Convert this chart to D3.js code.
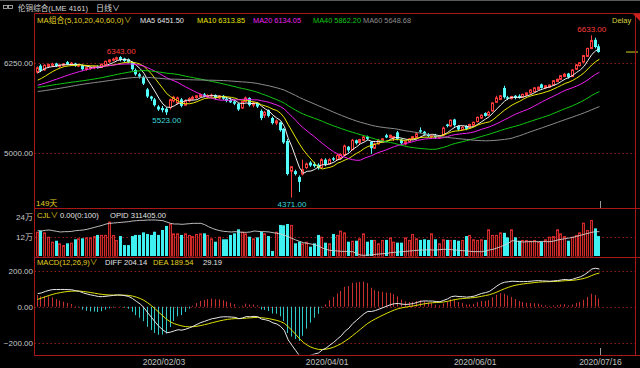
<!DOCTYPE html>
<html><head><meta charset="utf-8">
<script src="https://cdn.jsdelivr.net/npm/d3@7/dist/d3.min.js"></script>
<style>
html,body{margin:0;padding:0;background:#000;}
svg{display:block;}
text{font-family:"Liberation Sans",Arial,"Noto Sans CJK SC",sans-serif;}
</style></head><body>
<svg id="c" width="640" height="368"></svg>
<script>
// ---------------- DATA ----------------
const priorCloses = [5800,5780,5760,5740,5720,5700,5690,5680,5660,5650,5640,5660,5700,5720,5760,5780,5800,5820,5840,5860,
 5850,5860,5870,5880,5890,5900,5920,5930,5940,5950,5910,5880,5870,5860,5850,5840,5830,5820,5830,5850,
 5860,5870,5880,5860,5850,5840,5860,5870,5880,5900,
 5890,5900,5890,5910,5940,5990,6050,6150,6180];
const opens = [6120,6210,6150,6200,6215,6240,6200,6215,6260,6235,6240,6205,6215,6160,6175,6180,6200,6185,6225,6265,
 6290,6300,6330,6310,6300,6260,6150,6090,6050,5880,5780,5740,5640,5620,5610,5625,5720,5690,5740,5660,
 5720,5745,5765,5780,5810,5775,5790,5800,5760,5790,5750,5730,5710,5680,5620,5710,5760,5660,5690,5580,
 5520,5590,5480,5410,5420,5330,5160,4740,4740,4660,4700,4790,4860,4840,4830,4790,4900,4840,4920,4900,
 4920,4960,5080,5040,5170,5140,5170,5220,5150,5060,5120,5160,5240,5210,5200,5280,5180,5120,5150,5190,
 5210,5310,5290,5250,5220,5240,5210,5240,5390,5370,5460,5370,5320,5370,5340,5380,5430,5480,5550,5520,
 5580,5700,5740,5900,5770,5750,5790,5790,5770,5800,5830,5850,5880,5950,5900,5910,5940,5990,6020,6060,
 6100,6060,6160,6210,6260,6340,6450,6570,6480];
const highs = [6200,6230,6230,6240,6250,6250,6230,6245,6275,6260,6250,6230,6225,6190,6200,6210,6215,6240,6280,6300,
 6320,6335,6343,6320,6310,6270,6170,6110,6070,5900,5790,5760,5660,5650,5630,5750,5790,5780,5760,5740,
 5770,5790,5800,5820,5830,5810,5820,5810,5800,5800,5770,5760,5730,5690,5720,5780,5770,5700,5700,5600,
 5580,5600,5500,5460,5430,5340,5190,4810,4760,4680,4900,4860,4880,4870,4850,4920,4920,4920,4940,4980,
 4990,5110,5090,5190,5180,5190,5230,5235,5160,5140,5190,5200,5260,5250,5230,5300,5190,5160,5200,5230,
 5270,5350,5300,5270,5250,5260,5240,5360,5400,5460,5470,5380,5370,5380,5400,5430,5500,5530,5560,5580,
 5700,5790,5800,5930,5790,5790,5800,5810,5820,5840,5880,5910,5920,5960,5940,5950,6010,6030,6080,6110,
 6110,6160,6230,6260,6360,6460,6633,6600,6510];
const lows = [6100,6120,6140,6180,6190,6190,6180,6200,6220,6210,6195,6190,6140,6140,6150,6160,6170,6180,6215,6250,
 6270,6280,6270,6260,6240,6140,6070,6030,5940,5760,5720,5640,5580,5560,5523,5600,5700,5670,5630,5650,
 5700,5730,5750,5770,5770,5760,5770,5740,5740,5730,5700,5690,5660,5580,5610,5700,5640,5630,5620,5450,
 5480,5490,5390,5380,5290,5120,4680,4371,4680,4450,4680,4770,4800,4790,4760,4780,4810,4830,4880,4890,
 4900,4950,5000,5030,5110,5120,5160,5170,4980,5050,5110,5150,5200,5200,5160,5170,5110,5100,5140,5180,
 5200,5270,5240,5210,5200,5190,5190,5230,5350,5360,5360,5300,5310,5310,5330,5370,5420,5470,5500,5510,
 5570,5690,5730,5750,5730,5740,5740,5750,5760,5790,5820,5840,5870,5890,5890,5900,5930,5980,6010,6050,
 6030,6050,6150,6200,6250,6330,6440,6450,6390];
const closes = [6180,6140,6215,6225,6230,6205,6220,6235,6230,6245,6205,6220,6160,6180,6185,6195,6180,6230,6270,6290,
 6300,6320,6290,6275,6255,6160,6090,6060,5960,5780,5750,5660,5600,5590,5560,5735,5770,5760,5650,5720,
 5750,5770,5790,5805,5780,5795,5800,5760,5785,5750,5720,5700,5680,5600,5710,5760,5660,5690,5640,5480,
 5560,5510,5410,5440,5310,5140,4700,4800,4700,4590,4760,4840,4820,4810,4780,4900,4830,4900,4900,4960,
 4970,5090,5030,5170,5130,5180,5215,5190,5060,5120,5170,5190,5210,5240,5220,5190,5130,5150,5190,5220,
 5260,5290,5250,5230,5240,5210,5230,5340,5370,5450,5380,5320,5350,5330,5390,5420,5490,5520,5510,5560,
 5690,5760,5790,5770,5750,5780,5760,5770,5810,5830,5870,5900,5910,5900,5930,5940,6000,6020,6070,6090,
 6050,6150,6220,6250,6350,6450,6560,6470,6400];
const volumes = [15.1,15.8,14.7,12.0,8.9,9.5,7.9,6.8,7.9,8.3,10.4,11.0,11.0,11.6,11.6,12.4,13.1,13.1,13.1,21.4,
 13.1,10.0,12.4,6.8,6.8,12.4,13.1,13.1,14.7,13.7,13.1,15.1,13.1,16.2,18.7,20.3,14.1,14.1,13.1,14.1,
 13.1,12.4,13.7,14.1,14.1,13.1,11.0,8.9,12.0,10.4,10.4,13.1,14.1,16.6,15.1,14.1,12.0,11.0,11.6,15.1,
 14.1,12.4,3.1,15.1,19.3,19.1,19.9,19.3,7.9,8.9,7.9,8.9,5.8,7.9,13.1,12.0,8.3,7.9,13.7,13.1,
 15.8,14.7,8.9,9.5,9.5,11.0,14.1,8.9,10.0,10.0,7.9,10.0,10.0,11.6,8.9,8.3,8.3,11.6,10.0,13.7,
 11.0,10.0,10.4,10.0,14.1,10.4,7.9,10.4,10.0,10.0,10.0,9.5,10.0,12.4,13.1,10.4,10.0,10.4,10.0,16.6,
 13.1,13.1,14.7,14.4,11.6,16.6,11.6,9.5,10.0,10.0,9.5,10.0,8.9,8.9,10.4,12.0,12.4,16.6,14.1,12.4,
 9.5,12.0,13.1,14.7,20.7,16.2,22.4,17.2,12.4];
const openInterest = [313000,312500,313500,314000,313000,312000,311000,311500,311500,312000,
 313000,313500,314000,315000,316500,318000,319500,321000,323000,324000,
 324500,325000,325500,326000,326500,327500,328000,328500,328500,329000,
 329000,329000,328500,328000,326000,324000,323000,323000,322500,323000,
 323500,324000,324000,324000,322000,319000,316500,314500,313000,312000,
 311500,311000,311500,311000,310500,310500,311000,312500,312000,311500,
 311500,311000,310000,309000,308000,306000,304000,301500,299000,297000,
 295000,294000,293000,292000,290000,287000,285000,283500,283000,282500,
 282000,282000,281500,281500,279000,276500,276000,276500,276500,277500,
 278000,278500,279000,280000,280500,281000,281500,282000,282500,283000,
 283500,284000,284000,284500,284000,284000,284500,285000,285000,284500,
 284000,283500,283000,282500,282000,281500,281500,281500,282500,284000,
 285000,287000,289000,291500,294000,298000,297500,296500,296000,296500,
 296500,296500,296500,297000,296500,296500,297500,299000,300000,301000,
 302000,303000,304500,306000,307500,309000,310500,311500,311405];
const maPeriods = [5,10,20,40,60];
const maLegendValues = ["6451.50","6313.85","6134.05","5862.20","5648.68"];
const priceTicks = [6250,5000];
const volTicks = [24,12];
const macdTicks = [200,0,-200];
const macdLegend = ["204.14","189.54","29.19"];
const dateTickIndex = [33,76,115,148];
const dateTickLabels = ["2020/02/03","2020/04/01","2020/06/01","2020/07/16"];
const title = "伦铜综合(LME 4161)";
const titleMode = "日线";
const oiLegend = "311405.00";

// ---------------- DRAW ----------------
const svg = d3.select("#c");
svg.append("rect").attr("width",640).attr("height",368).attr("fill","#000");
svg.append("rect").attr("width",640).attr("height",1).attr("fill","#5a5a5a");

const N = closes.length;
const L = 34.5, R = 635.5;
const x = d3.scaleLinear().domain([0, N-1]).range([37.7, 599.4]);
const yP = d3.scaleLinear().domain([5000, 6250]).range([152.5, 62.8]);
const yV = d3.scaleLinear().domain([0, 12]).range([256, 236.7]);
const yOI = d3.scaleLinear().domain([275000, 335000]).range([256, 216]);
const yM = d3.scaleLinear().domain([-200, 200]).range([342.7, 270.7]);

const defs = svg.append("defs");
function clip(id, t, b){ defs.append("clipPath").attr("id",id).append("rect").attr("x",L+0.5).attr("y",t).attr("width",R-L-1).attr("height",b-t); }
clip("cm",14,207.5); clip("cv",208.5,256.5); clip("cd",257.5,354.5);

const RED = "#ff3c3c", CYAN = "#54fcfc", BORDER = "#a81818", GRID = "#8c1c1c";
const FS = 8;

function txt(x0,y0,s,fill,anchor){
  return svg.append("text").attr("x",x0).attr("y",y0).attr("fill",fill).attr("font-size",FS)
    .attr("text-anchor",anchor||"start").text(s);
}

// dashed grids
const gridG = svg.append("g").attr("stroke",GRID).attr("stroke-dasharray","1.5,2.5").attr("stroke-width",1);
priceTicks.forEach(v=>{const yy=Math.round(yP(v))+0.5; gridG.append("line").attr("x1",L).attr("x2",R).attr("y1",yy).attr("y2",yy);});
gridG.append("line").attr("x1",L).attr("x2",R).attr("y1",Math.round(yV(12))+0.5).attr("y2",Math.round(yV(12))+0.5);
macdTicks.forEach(v=>{const yy=Math.round(yM(v))+0.5; gridG.append("line").attr("x1",L).attr("x2",R).attr("y1",yy).attr("y2",yy);});

// axis labels
priceTicks.forEach(v=>txt(33, yP(v)+3, d3.format(".2f")(v), "#c8c8c8","end"));
volTicks.forEach(v=>txt(33, yV(v)+3, v+"万", "#c8c8c8","end"));
macdTicks.forEach(v=>txt(33, yM(v)+3, d3.format(".2f")(v), "#c8c8c8","end"));

// candles
const cg = svg.append("g").attr("clip-path","url(#cm)");
d3.range(N).forEach(i=>{
  const cx = Math.round(x(i));
  const isUp = closes[i] >= opens[i];
  const col = isUp ? RED : CYAN;
  cg.append("line").attr("x1",cx-0.5).attr("x2",cx-0.5).attr("y1",yP(highs[i])).attr("y2",yP(lows[i])).attr("stroke",col).attr("stroke-width",1);
  const top = yP(Math.max(opens[i],closes[i])), bot = yP(Math.min(opens[i],closes[i]));
  if(isUp){
    cg.append("rect").attr("x",cx-1.5).attr("y",top).attr("width",2).attr("height",Math.max(bot-top,1))
      .attr("fill","#000").attr("stroke",col).attr("stroke-width",1);
  } else {
    cg.append("rect").attr("x",cx-2).attr("y",top).attr("width",3).attr("height",Math.max(bot-top,1)).attr("fill",col);
  }
});

// moving averages
const all = priorCloses.concat(closes);
const P = priorCloses.length;
const maColors = ["#f0f0f0","#e8e800","#f020f0","#10c810","#8c8c8c"];
maPeriods.forEach((n,k)=>{
  const vals = d3.range(N).map(i=>d3.mean(all.slice(P+i-n+1, P+i+1)));
  cg.append("path").datum(vals).attr("fill","none").attr("stroke",maColors[k]).attr("stroke-width",1)
    .attr("d", d3.line().x((d,i)=>x(i)).y(d=>yP(d)));
});

// extreme labels
const hiIdx1 = d3.maxIndex(highs.slice(0,60));
const loIdx1 = 20 + d3.minIndex(lows.slice(20,45));
const hiAll = d3.maxIndex(highs), loAll = d3.minIndex(lows);
txt(x(hiIdx1), yP(highs[hiIdx1])-2.5, d3.format(".2f")(highs[hiIdx1]), RED, "middle");
txt(x(loIdx1), yP(lows[loIdx1])+8, d3.format(".2f")(lows[loIdx1]), "#3ad8d8", "middle");
txt(x(hiAll), yP(highs[hiAll])-3, d3.format(".2f")(highs[hiAll]), RED, "middle");
txt(x(loAll), yP(lows[loAll])+9.5, d3.format(".2f")(lows[loAll]), "#3ad8d8", "middle");

// current price marker
svg.append("line").attr("x1",626).attr("x2",638).attr("y1",yP(closes[N-1])).attr("y2",yP(closes[N-1])).attr("stroke","#d8d020").attr("stroke-width",1);

// volume
const vg = svg.append("g").attr("clip-path","url(#cv)");
d3.range(N).forEach(i=>{
  const cx = Math.round(x(i));
  const isUp = closes[i] >= opens[i];
  const top = yV(volumes[i]);
  if(isUp){
    vg.append("rect").attr("x",cx-1.5).attr("y",top+0.5).attr("width",2).attr("height",256-top)
      .attr("fill","#3a0606").attr("stroke","#d02a2a").attr("stroke-width",1);
  } else {
    vg.append("rect").attr("x",cx-2).attr("y",top).attr("width",3).attr("height",256-top).attr("fill","#3ef0f0");
  }
});
vg.append("path").datum(openInterest).attr("fill","none").attr("stroke","#cfcfcf").attr("stroke-width",0.9)
  .attr("d", d3.line().x((d,i)=>x(i)).y(d=>yOI(d)));

// MACD
function ema(arr,n){ const a=2/(n+1); const out=[]; arr.forEach((v,i)=>out.push(i===0?v:out[i-1]*(1-a)+v*a)); return out; }
const e12 = ema(all,12), e26 = ema(all,26);
const diffAll = all.map((v,i)=>e12[i]-e26[i]);
const deaAll = ema(diffAll,9);
const diff = diffAll.slice(P), dea = deaAll.slice(P);
const mg = svg.append("g").attr("clip-path","url(#cd)");
d3.range(N).forEach(i=>{
  const b = 2*(diff[i]-dea[i]);
  const cx = Math.round(x(i))-0.5;
  mg.append("line").attr("x1",cx).attr("x2",cx).attr("y1",yM(0)).attr("y2",yM(b))
    .attr("stroke", b>=0 ? "#c83030" : "#2ec8c8").attr("stroke-width",1);
});
mg.append("path").datum(dea).attr("fill","none").attr("stroke","#e0e000").attr("stroke-width",1)
  .attr("d", d3.line().x((d,i)=>x(i)).y(d=>yM(d)));
mg.append("path").datum(diff).attr("fill","none").attr("stroke","#e6e6e6").attr("stroke-width",1)
  .attr("d", d3.line().x((d,i)=>x(i)).y(d=>yM(d)));

// borders
const bg = svg.append("g").attr("stroke",BORDER).attr("stroke-width",1);
[13.5,208.5,257.5,355.5].forEach(yy=>bg.append("line").attr("x1",L).attr("x2",640).attr("y1",yy).attr("y2",yy));
bg.append("line").attr("x1",L).attr("x2",L).attr("y1",13.5).attr("y2",355.5);
bg.append("line").attr("x1",R).attr("x2",R).attr("y1",13.5).attr("y2",355.5);
svg.append("path").attr("d","M633,14 L640,14 L640,21 Z").attr("fill","#d02020");

// cursor ticks
const cxm = Math.round(x(N-1))+1.5;
svg.append("line").attr("x1",cxm).attr("x2",cxm).attr("y1",201).attr("y2",208).attr("stroke","#9a9a9a");
svg.append("line").attr("x1",cxm).attr("x2",cxm).attr("y1",348).attr("y2",355).attr("stroke","#9a9a9a");

// title
svg.append("rect").attr("x",3.5).attr("y",5.5).attr("width",4).attr("height",3).attr("fill","none").attr("stroke","#bbb").attr("stroke-width",0.8);
svg.append("rect").attr("x",8.5).attr("y",5.5).attr("width",4).attr("height",3).attr("fill","none").attr("stroke","#bbb").attr("stroke-width",0.8);
txt(18, 11, title, "#d8d8d8").attr("font-size",7.6);
txt(96, 11, titleMode+"∨", "#d8d8d8").attr("font-size",8);

// MA legend
txt(37, 23, "MA组合(5,10,20,40,60,0)∨", "#e0d020").attr("font-size",7.8);
const maX = [140,197,253,313,363];
maPeriods.forEach((n,k)=>txt(maX[k], 23, "MA"+n+" "+maLegendValues[k], k===0?"#e4e4e4":maColors[k]).attr("font-size",7.4));
txt(612, 23, "Delay", "#d8d040").attr("font-size",7.5);

// CJL legend
txt(37, 218, "CJL∨", "#e0d020").attr("font-size",7.6);
txt(60, 218, "0.00(0:100)", "#e4e4e4").attr("font-size",7.6);
txt(110, 218, "OPID "+oiLegend, "#e4e4e4").attr("font-size",7.6);

// MACD legend
txt(37, 265, "MACD(12,26,9)∨", "#e0d020").attr("font-size",7.6);
txt(105, 265, "DIFF "+macdLegend[0], "#e4e4e4").attr("font-size",7.6);
txt(153, 265, "DEA "+macdLegend[1], "#e0d020").attr("font-size",7.6);
txt(203, 265, macdLegend[2], "#e4e4e4").attr("font-size",7.6);

// day count
txt(36, 206, N+"天", "#e0d020");

// date labels
dateTickIndex.forEach((d,k)=>txt(x(d)+1, 365, dateTickLabels[k], "#c0c0c0", "middle").attr("font-size",8.5));
</script>
</body></html>
